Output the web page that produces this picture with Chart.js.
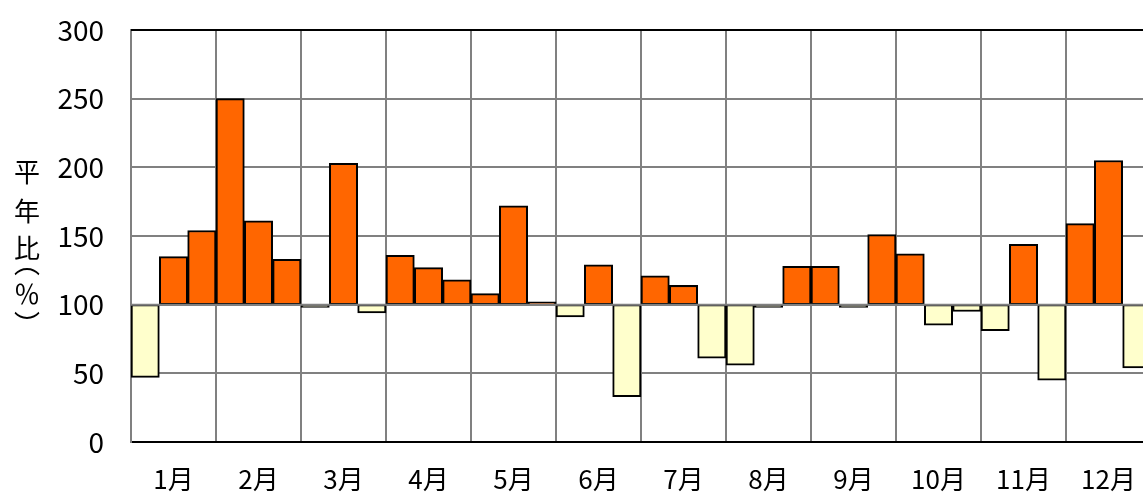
<!DOCTYPE html>
<html>
<head>
<meta charset="utf-8">
<script src="https://cdn.jsdelivr.net/npm/chart.js@4/dist/chart.umd.min.js"></script>
<style>
  html, body { margin: 0; padding: 0; background: #fff; overflow: hidden; }
  #wrap { width: 1160px; height: 499px; }
</style>
</head>
<body>
<div id="wrap"><canvas id="grafico"></canvas></div>
<script>
// 旬ごとの平年比(%) : 各月 上旬・中旬・下旬
const meses = ['1月', '2月', '3月', '4月', '5月', '6月', '7月', '8月', '9月', '10月', '11月', '12月'];
const junes = ['上旬', '中旬', '下旬'];
const razao = [
  47, 135, 154,
  250, 161, 133,
  98, 203, 94,
  136, 127, 118,
  108, 172, 102,
  91, 129, 33,
  121, 114, 61,
  56, 98, 128,
  128, 98, 151,
  137, 85, 95,
  81, 144, 45,
  159, 205, 54
];
const base = 100;
const yTicks = [0, 50, 100, 150, 200, 250, 300];

const fonte = '"Noto Sans CJK JP", sans-serif';

const rotulos = [];
for (let m of meses) for (let j of junes) rotulos.push(m + j);

const corAcima = '#FF6600';
const corAbaixo = '#FFFFCC';

// linha do topo, linha de 100 e título vertical do eixo Y
const extras = {
  id: 'extras',
  afterDatasetsDraw(chart) {
    const { ctx, chartArea, scales } = chart;
    const y100 = scales.y.getPixelForValue(base);
    ctx.save();
    ctx.strokeStyle = '#808080';
    ctx.lineWidth = 2;
    ctx.beginPath();
    ctx.moveTo(chartArea.left, y100);
    ctx.lineTo(chartArea.right, y100);
    ctx.stroke();
    ctx.strokeStyle = '#000';
    ctx.beginPath();
    ctx.moveTo(chartArea.left, chartArea.top);
    ctx.lineTo(chartArea.right, chartArea.top);
    ctx.stroke();
    ctx.restore();
  },
  afterDraw(chart) {
    const ctx = chart.ctx;
    ctx.save();
    ctx.fillStyle = '#000';
    ctx.font = '26px "Noto Sans CJK JP", sans-serif';
    ctx.textAlign = 'center';
    ctx.textBaseline = 'middle';
    // texto vertical: 平年比（％）
    const vertical = [['平', 172], ['年', 211], ['比', 248], ['︵', 263], ['％', 294], ['︶', 324]];
    vertical.forEach(([c, y]) => ctx.fillText(c, 27, y));
    ctx.restore();
  }
};

new Chart(document.getElementById('grafico'), {
  type: 'bar',
  data: {
    labels: rotulos,
    datasets: [{
      label: '平年比',
      data: razao.map(v => [base, v]),
      backgroundColor: razao.map(v => v >= base ? corAcima : corAbaixo),
      borderColor: '#000',
      borderWidth: 2,
      borderSkipped: false,
      barPercentage: 1,
      categoryPercentage: 1
    }]
  },
  options: {
    responsive: true,
    maintainAspectRatio: false,
    animation: false,
    layout: { padding: { left: 0, right: 9, top: 30, bottom: 0 } },
    plugins: {
      legend: { display: false },
      tooltip: { enabled: false }
    },
    scales: {
      x: {
        afterFit: s => { s.height = 57; },
        grid: {
          offset: true,
          drawTicks: false,
          lineWidth: 2,
          color: c => (c.index % 3 === 0 ? '#808080' : 'rgba(0,0,0,0)')
        },
        border: { color: '#000', width: 2 },
        ticks: {
          autoSkip: false,
          maxRotation: 0,
          padding: 22,
          color: '#000',
          font: { family: fonte, size: 26 },
          callback: (v, i) => (i % 3 === 1 ? meses[Math.floor(i / 3)] : '')
        }
      },
      y: {
        min: 0,
        max: 300,
        afterFit: s => { s.width = 131; s.paddingTop = 0; s.paddingBottom = 0; },
        afterBuildTicks: s => { s.ticks = yTicks.map(v => ({ value: v })); },
        grid: { drawTicks: false, lineWidth: 2, color: '#808080' },
        border: { color: '#808080', width: 2 },
        ticks: {
          padding: 27,
          color: '#000',
          font: { family: fonte, size: 28 }
        }
      }
    }
  },
  plugins: [extras]
});
</script>
</body>
</html>
